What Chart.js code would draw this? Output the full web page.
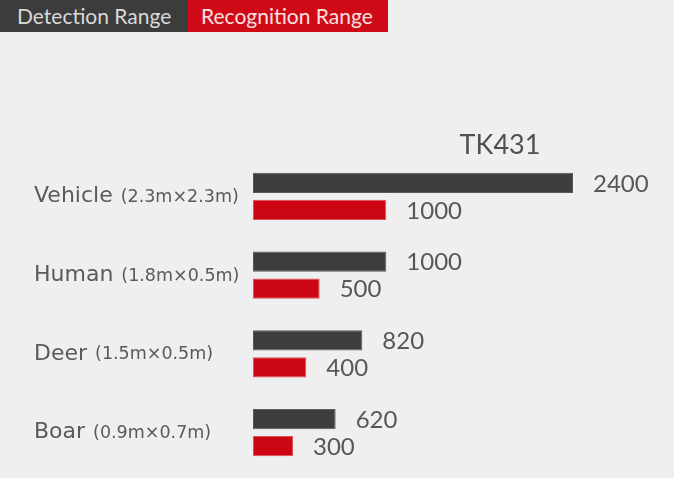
<!DOCTYPE html>
<html>
<head>
<meta charset="utf-8">
<script src="https://cdn.jsdelivr.net/npm/chart.js@4"></script>
<style>
  html, body { margin: 0; padding: 0; background: #efefef; }
  #wrap { position: relative; width: 674px; height: 478px; overflow: hidden; }
  #legend { position: absolute; left: 0; top: 0; display: flex; font-family: Lato, "Noto Sans", sans-serif; font-size: 21px; }
  #legend span { display: block; height: 32px; line-height: 31px; box-sizing: border-box; }
  #legend .det { background: #3c3c3c; color: #d9d9d9; width: 188px; padding-left: 17px; }
  #legend .rec { background: #cf0a16; color: #f7e0e0; width: 200px; padding-left: 13px; }
  canvas { position: absolute; left: 0; top: 0; }
</style>
</head>
<body>
<div id="wrap">
  <canvas id="rangeChart" width="674" height="478"></canvas>
  <div id="legend"><span class="det">Detection Range</span><span class="rec">Recognition Range</span></div>
</div>
<script>
// chart data
const categories = ['Vehicle', 'Human', 'Deer', 'Boar'];
const sizes = ['(2.3m×2.3m)', '(1.8m×0.5m)', '(1.5m×0.5m)', '(0.9m×0.7m)'];
const detectionRange = [2400, 1000, 820, 620];
const recognitionRange = [1000, 500, 400, 300];
const modelName = 'TK431';

const FONT = 'Lato, "Noto Sans", sans-serif';
const LABEL_FONT = '"DejaVu Sans", "Noto Sans", sans-serif';

// draws category names, value labels and model title
const labelsPlugin = {
    id: 'labelsPlugin',
    afterDatasetsDraw(chart) {
        const ctx = chart.ctx;
        const yScale = chart.scales.y;
        ctx.save();
        ctx.fillStyle = '#5a5a5a';
        ctx.textBaseline = 'middle';
        ctx.textAlign = 'left';

        // category labels
        categories.forEach((name, i) => {
            const y = yScale.getPixelForValue(i);
            ctx.font = '22px ' + LABEL_FONT;
            ctx.fillText(name, 34, y);
            const w = ctx.measureText(name).width + 8;
            ctx.font = '17.5px ' + LABEL_FONT;
            ctx.fillText(sizes[i], 34 + w, y + 1);
        });

        // value labels
        ctx.font = '24px ' + FONT;
        ctx.fillStyle = '#575757';
        chart.data.datasets.forEach((ds, di) => {
            const meta = chart.getDatasetMeta(di);
            meta.data.forEach((bar, i) => {
                ctx.fillText(String(ds.data[i]), bar.x + 20, bar.y + 1);
            });
        });

        // title
        ctx.font = '27px ' + FONT;
        ctx.fillStyle = '#505050';
        ctx.textAlign = 'center';
        ctx.fillText(modelName, 500, 145);
        ctx.restore();
    }
};

new Chart(document.getElementById('rangeChart').getContext('2d'), {
    type: 'bar',
    data: {
        labels: categories,
        datasets: [{
            label: 'Detection Range',
            data: detectionRange,
            backgroundColor: '#3d3d3d',
            borderColor: '#5a5a5a',
            borderWidth: 1,
            borderSkipped: false
        }, {
            label: 'Recognition Range',
            data: recognitionRange,
            backgroundColor: '#cc0612',
            borderColor: '#e0505a',
            borderWidth: 1,
            borderSkipped: false
        }]
    },
    options: {
        indexAxis: 'y',
        responsive: false,
        animation: false,
        layout: {
            padding: { left: 253, right: 21, top: 157, bottom: 6 }
        },
        categoryPercentage: 0.686,
        barPercentage: 0.75,
        plugins: {
            legend: { display: false },
            tooltip: { enabled: false }
        },
        scales: {
            x: { display: false, min: 0, max: 3000 },
            y: { display: false }
        }
    },
    plugins: [labelsPlugin]
});
</script>
</body>
</html>
